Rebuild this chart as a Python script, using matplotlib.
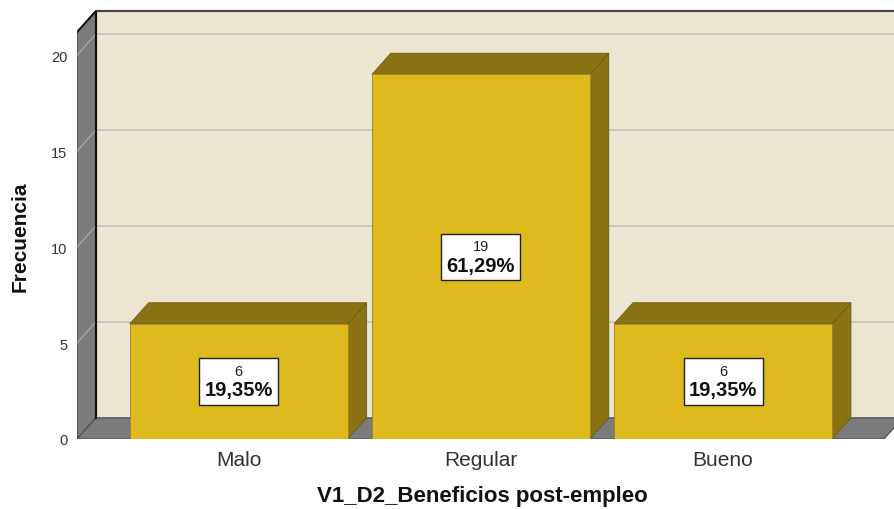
import matplotlib.pyplot as plt
from matplotlib.patches import Polygon, Rectangle
from matplotlib.offsetbox import TextArea, VPacker, AnnotationBbox

plt.rcParams["font.family"] = ["Liberation Sans", "DejaVu Sans"]

# data
categories = ["Malo", "Regular", "Bueno"]
counts = [6, 19, 6]
percents = ["19,35%", "61,29%", "19,35%"]
y_ticks = [0, 5, 10, 15, 20]

# colours
wall_back = "#EBE5D2"
wall_side = "#7B7B7B"
bar_front = "#DFBA1F"
bar_dark = "#8A7314"
grid_col = "#C6C3B8"

# 3d look (in data units)
dx, dy = 0.078, 1.1
bar_w = 0.9
x0, x1 = -0.668, 2.664
x_right = 2.71
wall_top = 21.2

fig = plt.figure(figsize=(8.95, 5.10), dpi=100)
ax = fig.add_axes([77 / 895, 70 / 510, (895 - 77) / 895, 428 / 510])
ax.set_xlim(x0, x_right)
ax.set_ylim(0, wall_top + dy)
for s in ax.spines.values():
    s.set_visible(False)

# back wall, side wall, floor
ax.add_patch(Rectangle((x0 + dx, dy), x_right - x0, wall_top, facecolor=wall_back,
                       edgecolor="none", zorder=0))
ax.add_patch(Polygon([(x0, 0), (x0 + dx, dy), (x0 + dx, wall_top + dy), (x0, wall_top)],
                     closed=True, facecolor=wall_side, edgecolor="#444444", lw=1.0, zorder=1))
ax.add_patch(Polygon([(x0, 0), (x1, 0), (x1 + dx, dy), (x0 + dx, dy)],
                     closed=True, facecolor=wall_side, edgecolor="#555555", lw=1.0, zorder=1))

# grid lines on the walls
for v in y_ticks[1:]:
    ax.plot([x0 + dx, x_right], [v + dy, v + dy], color=grid_col, lw=1.3, zorder=0.5)
    ax.plot([x0, x0 + dx], [v, v + dy], color="#A8A8A8", lw=1.0, zorder=1.5)

# wall edges
ax.plot([x0 + dx, x0 + dx], [dy, wall_top + dy], color="#111111", lw=1.6, zorder=2)
ax.plot([x0 + dx, x_right], [wall_top + dy, wall_top + dy], color="#444444", lw=1.6,
        zorder=2, clip_on=False)
ax.plot([x0, x0 + dx], [wall_top, wall_top + dy], color="#111111", lw=1.4, zorder=2)

# bars
for i, v in enumerate(counts):
    left, right = i - bar_w / 2, i + bar_w / 2
    ax.add_patch(Polygon([(right, 0), (right + dx, dy), (right + dx, v + dy), (right, v)],
                         closed=True, facecolor=bar_dark, edgecolor="#6E5C10", lw=0.6, zorder=3))
    ax.add_patch(Polygon([(left, v), (right, v), (right + dx, v + dy), (left + dx, v + dy)],
                         closed=True, facecolor=bar_dark, edgecolor="#6E5C10", lw=0.6, zorder=3))
    ax.add_patch(Rectangle((left, 0), bar_w, v, facecolor=bar_front,
                           edgecolor="#9C8418", lw=0.6, zorder=4))

    box = VPacker(children=[
        TextArea(str(v), textprops=dict(fontsize=10.5, color="#222222")),
        TextArea(percents[i], textprops=dict(fontsize=14.5, fontweight="bold", color="#111111")),
    ], align="center", pad=0, sep=2)
    ab = AnnotationBbox(box, (i, v / 2), frameon=True, pad=0.38, zorder=5,
                        bboxprops=dict(facecolor="white", edgecolor="#222222", lw=1.0,
                                       boxstyle="square,pad=0.38"))
    ax.add_artist(ab)

ax.set_yticks(y_ticks)
ax.set_yticklabels([str(t) for t in y_ticks], fontsize=10.5, color="#333333")
ax.tick_params(axis="y", length=0, pad=7)
ax.set_xticks(range(len(categories)))
ax.set_xticklabels(categories, fontsize=15, color="#333333")
ax.tick_params(axis="x", length=0, pad=8)

ax.set_xlabel("V1_D2_Beneficios post-empleo", fontsize=16, fontweight="bold", color="#111111")
ax.xaxis.set_label_coords(0.495, -0.131)
ax.xaxis.label.set_va("center")
ax.set_ylabel("Frecuencia", fontsize=15, fontweight="bold", color="#111111")
ax.yaxis.set_label_coords(-0.0697, 0.475)
ax.yaxis.label.set_va("center")

fig.savefig("out.png", dpi=100)
